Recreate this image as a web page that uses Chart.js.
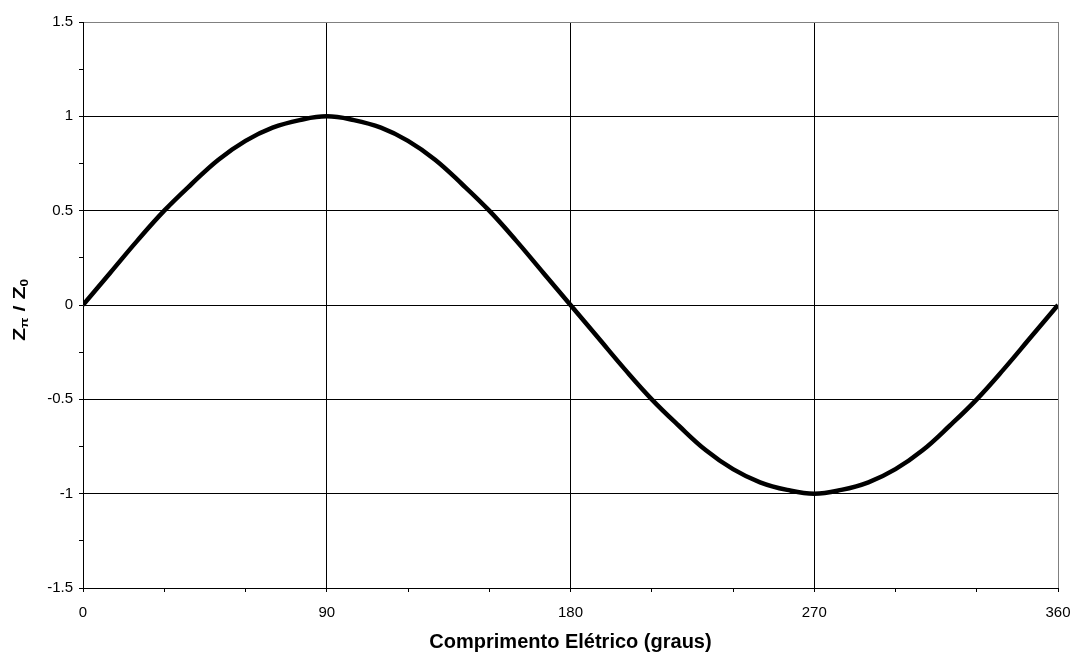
<!DOCTYPE html>
<html>
<head>
<meta charset="utf-8">
<script src="https://cdn.jsdelivr.net/npm/chart.js@4"></script>
<style>
  body { margin: 0; background: #fff; }
  #wrap { width: 1073px; height: 655px; }
</style>
</head>
<body>
<div id="wrap"><canvas id="myChart" width="1073" height="655"></canvas></div>
<script>
// electrical length in degrees
var degrees = [0, 10, 20, 30, 40, 50, 60, 70, 80, 90, 100, 110, 120, 130, 140, 150, 160, 170, 180,
               190, 200, 210, 220, 230, 240, 250, 260, 270, 280, 290, 300, 310, 320, 330, 340, 350, 360];
// Zpi / Z0
var ratio = [0, 0.17, 0.34, 0.5, 0.64, 0.77, 0.87, 0.94, 0.98, 1, 0.98, 0.94, 0.87, 0.77, 0.64, 0.5, 0.34, 0.17, 0,
             -0.17, -0.34, -0.5, -0.64, -0.77, -0.87, -0.94, -0.98, -1, -0.98, -0.94, -0.87, -0.77, -0.64, -0.5, -0.34, -0.17, 0];
var xTickLabels = [0, 90, 180, 270, 360];
var yTickLabels = [-1.5, -1, -0.5, 0, 0.5, 1, 1.5];

var points = degrees.map((d, i) => ({ x: d, y: ratio[i] }));
var font = "'Liberation Sans', Arial, sans-serif";

// draw the rotated y title with subscripts
var yTitlePlugin = {
    id: 'yTitle',
    afterDraw: function (chart) {
        var ctx = chart.ctx;
        ctx.save();
        ctx.translate(25, 310);
        ctx.rotate(-Math.PI / 2);
        ctx.scale(1.35, 1);
        ctx.fillStyle = '#000';
        ctx.textBaseline = 'alphabetic';
        var big = 'bold 16px ' + font;
        var small = 'bold 10px ' + font;
        var parts = [['Z', big, 0], ['π', small, 3], [' / Z', big, 0], ['0', small, 3]];
        var total = 0;
        parts.forEach(p => { ctx.font = p[1]; total += ctx.measureText(p[0]).width; });
        var x = -total / 2;
        parts.forEach(p => {
            ctx.font = p[1];
            ctx.fillText(p[0], x, p[2]);
            x += ctx.measureText(p[0]).width;
        });
        ctx.restore();
    }
};

var ctx = document.getElementById('myChart').getContext('2d');
var chart = new Chart(ctx, {
    type: 'line',
    data: {
        datasets: [{
            data: points,
            borderColor: '#000',
            borderWidth: 4.5,
            pointRadius: 0,
            tension: 0.4,
            fill: false
        }]
    },
    options: {
        responsive: false,
        animation: false,
        layout: { padding: { top: 22, right: 15, left: 0, bottom: 0 } },
        plugins: { legend: { display: false }, tooltip: { enabled: false } },
        scales: {
            x: {
                type: 'linear',
                min: 0,
                max: 360,
                afterFit: function (scale) {
                    scale.height = 67;
                    scale.paddingLeft = 0;
                    scale.paddingRight = 0;
                },
                ticks: {
                    stepSize: 30,
                    autoSkip: false,
                    maxRotation: 0,
                    padding: 12,
                    color: '#000',
                    font: { family: font, size: 15 },
                    callback: function (v) { return xTickLabels.includes(v) ? String(v) : ''; }
                },
                grid: {
                    color: function (c) {
                        var v = c.tick && c.tick.value;
                        if (v === 360) return '#808080';
                        return xTickLabels.includes(v) && v !== 0 ? '#000' : 'rgba(0,0,0,0)';
                    },
                    tickColor: '#000',
                    tickLength: 4,
                    lineWidth: 1
                },
                border: { color: '#000', width: 1 },
                title: {
                    display: true,
                    text: 'Comprimento Elétrico (graus)',
                    color: '#000',
                    font: { family: font, size: 20, weight: 'bold' },
                    padding: { top: 4, bottom: 1 }
                }
            },
            y: {
                min: -1.5,
                max: 1.5,
                afterFit: function (scale) {
                    scale.width = 83;
                    scale.paddingTop = 0;
                    scale.paddingBottom = 0;
                },
                ticks: {
                    stepSize: 0.25,
                    autoSkip: false,
                    padding: 6,
                    color: '#000',
                    font: { family: font, size: 15 },
                    callback: function (v) { return yTickLabels.includes(v) ? String(v) : ''; }
                },
                grid: {
                    color: function (c) {
                        var v = c.tick && c.tick.value;
                        if (v === 1.5) return '#808080';
                        return yTickLabels.includes(v) && v !== -1.5 ? '#000' : 'rgba(0,0,0,0)';
                    },
                    tickColor: '#000',
                    tickLength: 4,
                    lineWidth: 1
                },
                border: { color: '#000', width: 1 }
            }
        }
    },
    plugins: [yTitlePlugin]
});
</script>
</body>
</html>
